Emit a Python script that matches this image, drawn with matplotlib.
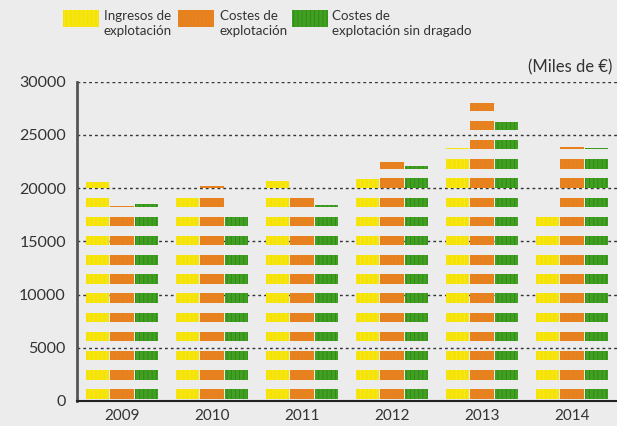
import matplotlib
matplotlib.use("Agg")
import matplotlib.pyplot as plt
from matplotlib.patches import Rectangle

years = ["2009", "2010", "2011", "2012", "2013", "2014"]
ingresos = [20550, 19500, 20650, 20800, 23750, 17600]
costes = [18350, 20200, 19400, 22450, 28000, 23850]
costes_sin_dragado = [18500, 17700, 18400, 22100, 26200, 23750]
series_labels = ["Ingresos de\nexplotación", "Costes de\nexplotación",
                 "Costes de\nexplotación sin dragado"]
yticks = [0, 5000, 10000, 15000, 20000, 25000, 30000]

BG = "#EBECEB"
face = ["#F7E300", "#E8821E", "#41A021"]
hatchc = ["#F2E640", "#E48024", "#2F8718"]
hatches = ["||||", "||||", "||||"]

plt.rcParams['font.family'] = ['Lato', 'DejaVu Sans']
plt.rcParams['hatch.linewidth'] = 0.6

fig = plt.figure(figsize=(6.17, 4.26), dpi=100, facecolor=BG)
ax = fig.add_axes([77/617, 25/426, 1 - 77/617, 319.5/426])
ax.set_facecolor(BG)

# pictogram unit: period, offset, segment height (in data units)
P, OFF, H = 1800, 216, 883
bw = 0.26
offs = [-0.27, 0.0, 0.27]
for si, vals in enumerate([ingresos, costes, costes_sin_dragado]):
    for xi, v in enumerate(vals):
        k = 0
        while k * P + OFF < v:
            b = k * P + OFF
            t = min(b + H, v)
            ax.bar(xi + offs[si], t - b, bottom=b, width=bw, color=face[si],
                   edgecolor=hatchc[si], linewidth=0, hatch=hatches[si],
                   zorder=3)
            k += 1

ax.set_xlim(-0.5, 5.5)
ax.set_ylim(0, 30000)
ax.set_yticks(yticks)
ax.set_yticklabels([str(t) for t in yticks], fontsize=11.5, color="#333333")
ax.set_xticks(range(len(years)))
ax.set_xticklabels(years, fontsize=11, color="#333333")
ax.tick_params(length=0, pad=8)
ax.tick_params(axis='x', pad=6)
for t in yticks[1:]:
    ax.axhline(t, color="#333333", lw=1.0, ls=(0, (2, 2.2)), zorder=1)
for s in ["top", "right"]:
    ax.spines[s].set_visible(False)
ax.spines["left"].set_color("#555555")
ax.spines["left"].set_linewidth(2)
ax.spines["bottom"].set_color("#222222")
ax.spines["bottom"].set_linewidth(1.5)

ax.text(1.0 - 5/540, 1.045, "(Miles de €)", transform=ax.transAxes, ha="right",
        va="center", fontsize=12, color="#333333")

# legend
leg_x = [63, 178, 292]
text_x = [104, 220, 332]
for i in range(3):
    r = Rectangle((leg_x[i] / 617, 1 - 27 / 426), 36 / 617, 17 / 426,
                  transform=fig.transFigure, facecolor=face[i], edgecolor=hatchc[i],
                  linewidth=0, hatch=hatches[i])
    fig.patches.append(r)
    fig.text(text_x[i] / 617, 1 - 10 / 426, series_labels[i], ha="left", va="top",
             fontsize=9.6, color="#333333", linespacing=1.3)

fig.savefig("out.png", dpi=100, facecolor=BG)
